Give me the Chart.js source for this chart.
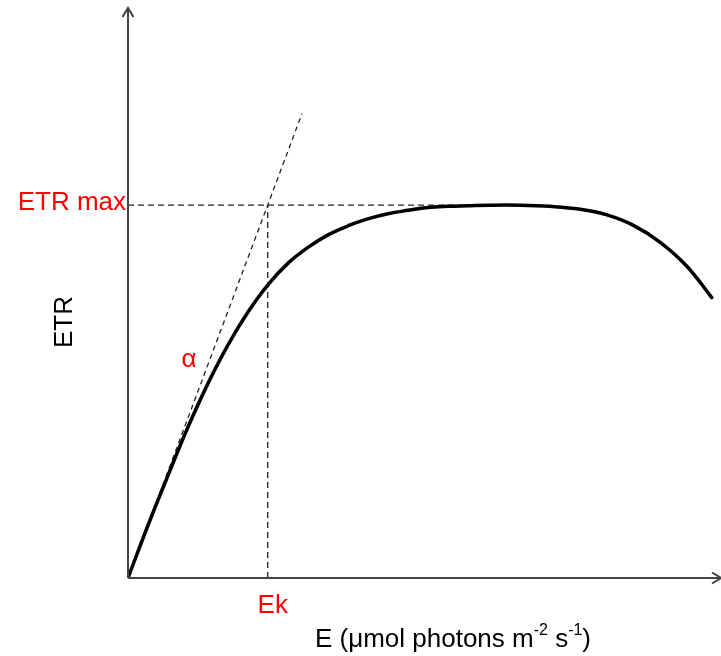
<!DOCTYPE html>
<html>
<head>
<meta charset="utf-8">
<title>ETR light curve</title>
<script src="https://cdn.jsdelivr.net/npm/chart.js@4/dist/chart.umd.min.js"></script>
<style>
  html, body { margin: 0; padding: 0; background: #ffffff; }
  #wrap { width: 721px; height: 656px; }
</style>
</head>
<body>
<div id="wrap"><canvas id="chart" width="721" height="656"></canvas></div>
<script>
// Photosynthesis–irradiance (ETR vs E) curve, arbitrary units
const lightE   = [0, 3.4, 6.8, 10.1, 13.5, 16.9, 20.3, 23.6, 27.0, 30.4, 33.8, 37.2, 40.5, 43.9, 47.3, 50.7, 54.1, 57.4, 61.1, 66.2, 71.3, 76.4, 80.9, 85.3, 89.9, 94.4, 98.6];
const etrCurve = [0, 9.3, 18.1, 26.4, 34.1, 40.9, 46.7, 51.4, 55.2, 58.0, 60.2, 61.8, 63.0, 63.9, 64.5, 65.0, 65.2, 65.3, 65.4, 65.4, 65.2, 64.7, 63.7, 61.9, 58.9, 54.7, 49.2];

// Characteristic parameters
const etrMax = 65.4;          // ETR max plateau
const ek = 23.6;              // saturation onset, Ek
const ePeak = 61.1;           // where the plateau line meets the curve
const alphaLineE   = [0, 29.4];     // initial-slope (α) guide line
const alphaLineETR = [0, 81.5];

// Axis ranges
const eRange   = [0, 100];
const etrRange = [0, 100];

// Text
const labelEtrMax = 'ETR max';
const labelEk = 'Ek';
const labelAlpha = 'α';
const yTitle = 'ETR';
const xTitleParts = [
  { t: 'E (μmol photons m', sup: false },
  { t: '-2', sup: true },
  { t: ' s', sup: false },
  { t: '-1', sup: true },
  { t: ')', sup: false }
];

const toPoints = (xs, ys) => xs.map((x, i) => ({ x: x, y: ys[i] }));

const FONT = '"Liberation Sans", Arial, sans-serif';
const dashStyle = { borderColor: '#222222', borderWidth: 1.3, borderDash: [6, 4], pointRadius: 0, fill: false, tension: 0 };

const decorations = {
  id: 'decorations',
  afterDatasetsDraw(chart) {
    const { ctx, chartArea: a, scales } = chart;
    const xs = scales.x, ys = scales.y;
    ctx.save();

    // Axes with open arrowheads
    ctx.strokeStyle = '#454545';
    ctx.lineWidth = 2;
    ctx.lineCap = 'butt';
    ctx.lineJoin = 'miter';
    const ox = xs.getPixelForValue(eRange[0]);
    const oy = ys.getPixelForValue(etrRange[0]);
    ctx.beginPath();
    ctx.moveTo(ox, oy);
    ctx.lineTo(ox, a.top);
    ctx.moveTo(ox - 5.5, a.top + 9);
    ctx.lineTo(ox, a.top);
    ctx.lineTo(ox + 5.5, a.top + 9);
    ctx.stroke();
    const tip = a.right + 1;
    ctx.beginPath();
    ctx.moveTo(ox, oy);
    ctx.lineTo(tip, oy);
    ctx.moveTo(tip - 9, oy - 5.5);
    ctx.lineTo(tip, oy);
    ctx.lineTo(tip - 9, oy + 5.5);
    ctx.stroke();

    // Red annotations
    ctx.fillStyle = '#ff0000';
    ctx.font = '26px ' + FONT;
    ctx.textBaseline = 'alphabetic';
    ctx.textAlign = 'right';
    ctx.fillText(labelEtrMax, ox - 2, ys.getPixelForValue(etrMax) + 4.5);
    ctx.textAlign = 'center';
    ctx.fillText(labelEk, xs.getPixelForValue(ek) + 5, oy + 35);
    ctx.fillText(labelAlpha, 189, 367);

    // Y title (rotated)
    ctx.fillStyle = '#000000';
    ctx.save();
    ctx.translate(72, 322);
    ctx.rotate(-Math.PI / 2);
    ctx.textAlign = 'center';
    ctx.fillText(yTitle, 0, 0);
    ctx.restore();

    // X title with superscripts
    const mainFont = '26px ' + FONT;
    const supFont = '16px ' + FONT;
    let total = 0;
    xTitleParts.forEach(p => {
      ctx.font = p.sup ? supFont : mainFont;
      total += ctx.measureText(p.t).width;
    });
    let cx = 453 - total / 2;
    const base = 647;
    ctx.textAlign = 'left';
    xTitleParts.forEach(p => {
      ctx.font = p.sup ? supFont : mainFont;
      ctx.fillText(p.t, cx, p.sup ? base - 12 : base);
      cx += ctx.measureText(p.t).width;
    });

    ctx.restore();
  }
};

new Chart(document.getElementById('chart'), {
  type: 'line',
  data: {
    datasets: [
      {
        label: 'ETR',
        data: toPoints(lightE, etrCurve),
        borderColor: '#000000',
        borderWidth: 3.5,
        pointRadius: 0,
        fill: false,
        tension: 0.4,
        borderCapStyle: 'round',
        borderJoinStyle: 'round'
      },
      Object.assign({ label: 'alpha', data: toPoints(alphaLineE, alphaLineETR) }, dashStyle, { borderDash: [5, 4] }),
      Object.assign({ label: 'ETRmax', data: toPoints([0, ePeak], [etrMax, etrMax]) }, dashStyle),
      Object.assign({ label: 'Ek', data: toPoints([ek, ek], [0, etrMax]) }, dashStyle)
    ]
  },
  options: {
    responsive: false,
    animation: false,
    devicePixelRatio: 1,
    layout: { padding: { left: 128, right: 1, top: 8, bottom: 78 } },
    plugins: { legend: { display: false }, tooltip: { enabled: false }, title: { display: false } },
    scales: {
      x: { type: 'linear', min: eRange[0], max: eRange[1], display: false },
      y: { type: 'linear', min: etrRange[0], max: etrRange[1], display: false }
    }
  },
  plugins: [decorations]
});
</script>
</body>
</html>
